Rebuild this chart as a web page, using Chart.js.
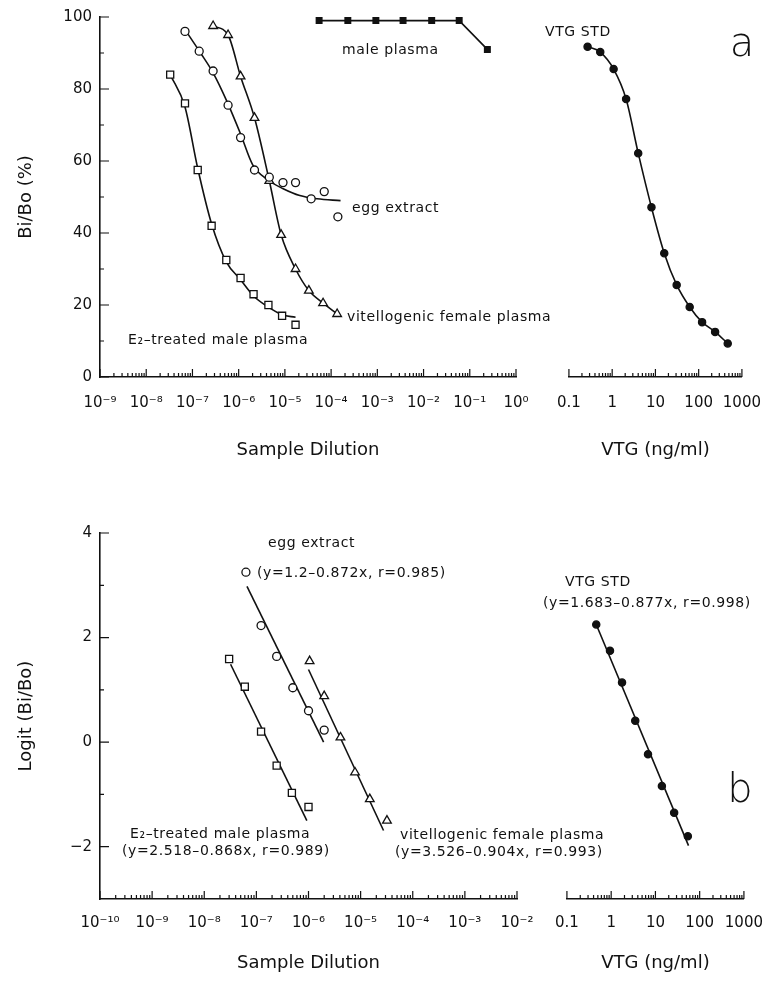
<!DOCTYPE html>
<html>
<head>
<meta charset="utf-8">
<title>VTG ELISA displacement curves</title>
<script src="https://cdn.jsdelivr.net/npm/chart.js@4.4.1/dist/chart.umd.min.js"></script>
<style>
  html, body { margin: 0; padding: 0; background: #fff; }
  #page { position: relative; width: 778px; height: 981px; overflow: hidden; }
  #page canvas { position: absolute; }
</style>
</head>
<body>
<div id="page">
  <canvas id="aLeft"></canvas>
  <canvas id="aRight"></canvas>
  <canvas id="bLeft"></canvas>
  <canvas id="bRight"></canvas>
</div>
<script>
// ---------- data ----------

// panel a : Bi/Bo (%) vs sample dilution
const e2Dil = [3.3e-8, 6.9e-8, 1.3e-7, 2.6e-7, 5.4e-7, 1.1e-6, 2.1e-6, 4.4e-6, 8.7e-6, 1.7e-5];
const e2Pct = [84, 76, 57.5, 42, 32.5, 27.5, 23, 20, 17, 14.5];
const e2FitDil = [3.3e-8, 6.9e-8, 1.3e-7, 2.6e-7, 5.4e-7, 1.1e-6, 2.1e-6, 4.4e-6, 8.7e-6, 1.7e-5];
const e2FitPct = [84, 75, 58, 42.5, 32, 27, 22.5, 19.4, 17.3, 16.6];

const eggDil = [6.9e-8, 1.4e-7, 2.8e-7, 5.9e-7, 1.1e-6, 2.2e-6, 4.6e-6, 9.1e-6, 1.7e-5, 3.7e-5, 7.1e-5, 1.4e-4];
const eggPct = [96, 90.5, 85, 75.5, 66.5, 57.5, 55.5, 54, 54, 49.5, 51.5, 44.5];
const eggFitDil = [6.9e-8, 1.5e-7, 2.8e-7, 5.6e-7, 1.1e-6, 2.0e-6, 4.0e-6, 9.2e-6, 2.1e-5, 5.0e-5, 1.6e-4];
const eggFitPct = [96.5, 90, 84.5, 76.5, 67.5, 59, 55, 52.3, 50.4, 49.5, 49];

const vfDil = [2.8e-7, 5.9e-7, 1.1e-6, 2.2e-6, 4.6e-6, 8.3e-6, 1.7e-5, 3.3e-5, 6.7e-5, 1.35e-4];
const vfPct = [97.5, 95, 83.5, 72, 54.5, 39.5, 30, 24, 20.5, 17.5];

const malDil = [5.5e-5, 2.3e-4, 9.3e-4, 3.6e-3, 1.5e-2, 5.9e-2, 0.24];
const malPct = [99, 99, 99, 99, 99, 99, 91];

// panel a : VTG standard (ng/ml)
const stdNg = [0.27, 0.53, 1.08, 2.1, 4.0, 8.1, 16, 31, 62, 120, 240, 470];
const stdPct = [91.5, 90, 85.3, 77, 62, 47, 34.3, 25.5, 19.4, 15.2, 12.5, 9.3];

// panel b : logit(Bi/Bo)
const eggLgDil = [6.3e-8, 1.23e-7, 2.45e-7, 5.0e-7, 1.0e-6, 2.0e-6];
const eggLg = [3.25, 2.23, 1.64, 1.04, 0.6, 0.23];
const eggLineDil = [6.6e-8, 1.95e-6];
const eggLine = [2.98, 0];

const e2LgDil = [3.0e-8, 6.0e-8, 1.23e-7, 2.45e-7, 4.8e-7, 1.0e-6];
const e2Lg = [1.59, 1.06, 0.2, -0.45, -0.97, -1.24];
const e2LineDil = [3.2e-8, 9.3e-7];
const e2Line = [1.49, -1.5];

const vfLgDil = [1.05e-6, 2.0e-6, 4.1e-6, 7.8e-6, 1.5e-5, 3.2e-5];
const vfLg = [1.55, 0.88, 0.09, -0.58, -1.09, -1.5];
const vfLineDil = [1.0e-6, 2.75e-5];
const vfLine = [1.39, -1.69];

const stdLgNg = [0.46, 0.94, 1.76, 3.5, 6.8, 14, 26.5, 54];
const stdLg = [2.25, 1.75, 1.14, 0.41, -0.23, -0.84, -1.35, -1.8];
const stdLineNg = [0.45, 56];
const stdLine = [2.27, -1.98];

// axes
const dilTicksA = [1e-9, 1e-8, 1e-7, 1e-6, 1e-5, 1e-4, 1e-3, 1e-2, 1e-1, 1];
const dilLabelsA = ["10⁻⁹", "10⁻⁸", "10⁻⁷", "10⁻⁶", "10⁻⁵", "10⁻⁴", "10⁻³", "10⁻²", "10⁻¹", "10⁰"];
const dilTicksB = [1e-10, 1e-9, 1e-8, 1e-7, 1e-6, 1e-5, 1e-4, 1e-3, 1e-2];
const dilLabelsB = ["10⁻¹⁰", "10⁻⁹", "10⁻⁸", "10⁻⁷", "10⁻⁶", "10⁻⁵", "10⁻⁴", "10⁻³", "10⁻²"];
const ngTicks = [0.1, 1, 10, 100, 1000];
const ngLabels = ["0.1", "1", "10", "100", "1000"];
const pctTicks = [0, 20, 40, 60, 80, 100];
const pctLabels = ["0", "20", "40", "60", "80", "100"];
const pctMinor = [10, 30, 50, 70, 90];
const lgTicks = [-2, 0, 2, 4];
const lgLabels = ["−2", "0", "2", "4"];
const lgMinor = [-1, 1, 3];

// =====================================================
// STYLE
// =====================================================
const INK = "#111";
const FONT = "'DejaVu Sans', 'Liberation Sans', sans-serif";
Chart.defaults.font.family = FONT;
Chart.defaults.color = INK;

const OPEN_SQ = { pointStyle: "rect", pointRadius: 5, pointBackgroundColor: "#fff" };
const OPEN_CIRC = { pointStyle: "circle", pointRadius: 4, pointBackgroundColor: "#fff" };
const OPEN_TRI = { pointStyle: "triangle", pointRadius: 5, pointBackgroundColor: "#fff" };
const FILL_SQ = { pointStyle: "rect", pointRadius: 4, pointBackgroundColor: INK };
const FILL_CIRC = { pointStyle: "circle", pointRadius: 3.6, pointBackgroundColor: INK };

function pts(xs, ys) {
  return xs.map((x, i) => ({ x, y: ys[i] }));
}

function markers(xs, ys, style) {
  return Object.assign({
    data: pts(xs, ys),
    showLine: false,
    pointBorderColor: INK,
    pointBorderWidth: 1.3,
    order: 0,
    clip: false
  }, style);
}

function curve(xs, ys, smooth) {
  return {
    data: pts(xs, ys),
    showLine: true,
    pointRadius: 0,
    borderColor: INK,
    borderWidth: 1.6,
    cubicInterpolationMode: smooth ? "monotone" : "default",
    tension: 0,
    order: 1,
    clip: false
  };
}

// =====================================================
// PLUGINS : inward tick marks + free text
// =====================================================
function innerTicks(yMajor, yMinor) {
  return {
    id: "innerTicks",
    afterDraw(chart) {
      const { ctx, chartArea: area, scales: { x, y } } = chart;
      ctx.save();
      ctx.strokeStyle = INK;
      ctx.lineWidth = 1.2;
      ctx.beginPath();
      const lo = Math.round(Math.log10(x.min));
      const hi = Math.round(Math.log10(x.max));
      for (let d = lo; d <= hi; d++) {
        const base = Math.pow(10, d);
        const px = x.getPixelForValue(base);
        ctx.moveTo(px, area.bottom);
        ctx.lineTo(px, area.bottom - 8);
        if (d === hi) continue;
        for (let k = 2; k <= 9; k++) {
          const mx = x.getPixelForValue(k * base);
          ctx.moveTo(mx, area.bottom);
          ctx.lineTo(mx, area.bottom - 4);
        }
      }
      if (yMajor) {
        yMajor.forEach((v) => {
          const py = y.getPixelForValue(v);
          ctx.moveTo(area.left, py);
          ctx.lineTo(area.left + 9, py);
        });
        yMinor.forEach((v) => {
          const py = y.getPixelForValue(v);
          ctx.moveTo(area.left, py);
          ctx.lineTo(area.left + 4, py);
        });
      }
      ctx.stroke();
      ctx.restore();
    }
  };
}

function notes(items, top) {
  return {
    id: "notes",
    afterDraw(chart) {
      const ctx = chart.ctx;
      ctx.save();
      ctx.fillStyle = INK;
      ctx.textBaseline = "middle";
      items.forEach((n) => {
        ctx.font = n.font || "14px " + FONT;
        ctx.letterSpacing = n.font ? "0px" : "0.6px";
        ctx.textAlign = n.align || "left";
        ctx.fillText(n.text, n.x, n.y - top);
      });
      ctx.letterSpacing = "0px";
      ctx.restore();
    }
  };
}

const notesA = [
  { text: "male plasma", x: 342, y: 50 },
  { text: "VTG STD", x: 545, y: 32 },
  { text: "egg extract", x: 352, y: 208 },
  { text: "vitellogenic female plasma", x: 347, y: 317 },
  { text: "E₂–treated male plasma", x: 128, y: 340 },
  { text: "a", x: 742, y: 46, align: "center", font: "200 40px " + FONT }
];

const notesB = [
  { text: "egg extract", x: 268, y: 543 },
  { text: "(y=1.2–0.872x, r=0.985)", x: 257, y: 573 },
  { text: "VTG STD", x: 565, y: 582 },
  { text: "(y=1.683–0.877x, r=0.998)", x: 543, y: 603 },
  { text: "E₂–treated male plasma", x: 130, y: 834 },
  { text: "(y=2.518–0.868x, r=0.989)", x: 122, y: 851 },
  { text: "vitellogenic female plasma", x: 400, y: 835 },
  { text: "(y=3.526–0.904x, r=0.993)", x: 395, y: 852 },
  { text: "b", x: 740, y: 792, align: "center", font: "200 40px " + FONT }
];

// =====================================================
// OPTIONS
// =====================================================
function buildOptions(cfg) {
  return {
    responsive: false,
    animation: false,
    events: [],
    layout: { padding: cfg.pad },
    plugins: {
      legend: { display: false },
      tooltip: { enabled: false }
    },
    scales: {
      x: {
        type: "logarithmic",
        min: cfg.xTicks[0],
        max: cfg.xTicks[cfg.xTicks.length - 1],
        afterBuildTicks: (s) => { s.ticks = cfg.xTicks.map((v) => ({ value: v })); },
        afterFit: (s) => { s.height = cfg.xHeight; },
        grid: { display: false, drawTicks: false },
        border: { display: true, color: INK, width: 1.6 },
        ticks: {
          autoSkip: false,
          maxRotation: 0,
          minRotation: 0,
          padding: cfg.xTickPad,
          color: INK,
          font: { size: 15 },
          callback: (v, i) => cfg.xLabels[i]
        },
        title: {
          display: true,
          text: cfg.xTitle,
          color: INK,
          font: { size: 18 },
          padding: { top: 0, bottom: cfg.xTitlePad }
        }
      },
      y: {
        type: "linear",
        display: cfg.showY,
        min: cfg.yMin,
        max: cfg.yMax,
        afterBuildTicks: (s) => { s.ticks = cfg.yTicks.map((v) => ({ value: v })); },
        afterFit: (s) => { s.width = cfg.yWidth; },
        grid: { display: false, drawTicks: false },
        border: { display: true, color: INK, width: 1.6 },
        ticks: {
          padding: 8,
          color: INK,
          font: { size: 15 },
          callback: (v, i) => cfg.yLabels[i]
        },
        title: {
          display: true,
          text: cfg.yTitle,
          color: INK,
          font: { size: 18 },
          padding: { top: 16, bottom: 0 }
        }
      }
    }
  };
}

function panel(id, left, top, width, height) {
  const c = document.getElementById(id);
  c.width = width;
  c.height = height;
  c.style.left = left + "px";
  c.style.top = top + "px";
  c.style.width = width + "px";
  c.style.height = height + "px";
  return c;
}

// =====================================================
// PANEL a
// =====================================================
new Chart(panel("aLeft", 0, 0, 778, 470), {
  type: "scatter",
  data: {
    datasets: [
      markers(e2Dil, e2Pct, OPEN_SQ),
      markers(eggDil, eggPct, OPEN_CIRC),
      markers(vfDil, vfPct, OPEN_TRI),
      markers(malDil, malPct, FILL_SQ),
      curve(e2FitDil, e2FitPct, true),
      curve(eggFitDil, eggFitPct, true),
      curve(vfDil, vfPct, true),
      curve(malDil, malPct, false)
    ]
  },
  options: buildOptions({
    pad: { top: 16, right: 262, bottom: 0, left: 0 },
    xTicks: dilTicksA, xLabels: dilLabelsA, xTitle: "Sample Dilution",
    xHeight: 93, xTickPad: 17, xTitlePad: 9,
    showY: true, yMin: 0, yMax: 100, yTicks: pctTicks, yLabels: pctLabels,
    yTitle: "Bi/Bo (%)", yWidth: 100
  }),
  plugins: [innerTicks(pctTicks, pctMinor), notes(notesA, 0)]
});

new Chart(panel("aRight", 540, 0, 238, 470), {
  type: "scatter",
  data: {
    datasets: [
      markers(stdNg, stdPct, FILL_CIRC),
      curve(stdNg, stdPct, true)
    ]
  },
  options: buildOptions({
    pad: { top: 16, right: 32, bottom: 0, left: 24 },
    xTicks: ngTicks, xLabels: ngLabels, xTitle: "VTG (ng/ml)",
    xHeight: 93, xTickPad: 17, xTitlePad: 9,
    showY: false, yMin: 0, yMax: 100, yTicks: pctTicks, yLabels: pctLabels,
    yTitle: "", yWidth: 0
  }),
  plugins: [innerTicks(null, null)]
});

// =====================================================
// PANEL b
// =====================================================
new Chart(panel("bLeft", 0, 470, 778, 511), {
  type: "scatter",
  data: {
    datasets: [
      markers(eggLgDil, eggLg, OPEN_CIRC),
      markers(e2LgDil, e2Lg, OPEN_SQ),
      markers(vfLgDil, vfLg, OPEN_TRI),
      curve(eggLineDil, eggLine, false),
      curve(e2LineDil, e2Line, false),
      curve(vfLineDil, vfLine, false)
    ]
  },
  options: buildOptions({
    pad: { top: 63, right: 261, bottom: 0, left: 0 },
    xTicks: dilTicksB, xLabels: dilLabelsB, xTitle: "Sample Dilution",
    xHeight: 82, xTickPad: 15, xTitlePad: 7,
    showY: true, yMin: -3, yMax: 4, yTicks: lgTicks, yLabels: lgLabels,
    yTitle: "Logit (Bi/Bo)", yWidth: 100
  }),
  plugins: [innerTicks(lgTicks, lgMinor), notes(notesB, 470)]
});

new Chart(panel("bRight", 540, 470, 238, 511), {
  type: "scatter",
  data: {
    datasets: [
      markers(stdLgNg, stdLg, FILL_CIRC),
      curve(stdLineNg, stdLine, false)
    ]
  },
  options: buildOptions({
    pad: { top: 63, right: 32, bottom: 0, left: 24 },
    xTicks: ngTicks, xLabels: ngLabels, xTitle: "VTG (ng/ml)",
    xHeight: 82, xTickPad: 15, xTitlePad: 7,
    showY: false, yMin: -3, yMax: 4, yTicks: lgTicks, yLabels: lgLabels,
    yTitle: "", yWidth: 0
  }),
  plugins: [innerTicks(null, null)]
});
</script>
</body>
</html>
